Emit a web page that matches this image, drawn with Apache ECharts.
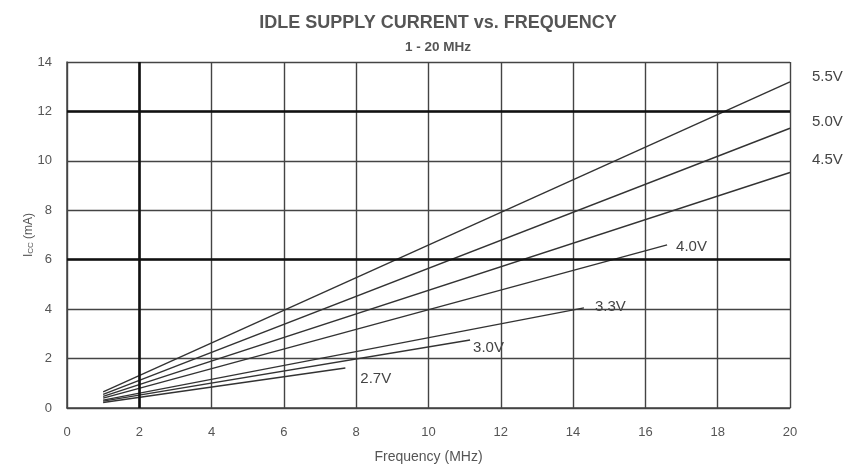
<!DOCTYPE html>
<html><head><meta charset="utf-8">
<script src="https://cdn.jsdelivr.net/npm/echarts@6/dist/echarts.min.js"></script>
<style>html,body{margin:0;padding:0;background:#fff}#c{width:853px;height:470px}</style>
</head><body><div id="c"></div>
<script>
// Data
const voltages = ['5.5V','5.0V','4.5V','4.0V','3.3V','3.0V','2.7V'];
const startX = [1, 1, 1, 1, 1, 1, 1];
const startY = [0.65, 0.55, 0.47, 0.40, 0.32, 0.28, 0.22];
const endX   = [20, 20, 20, 16.6, 14.3, 11.15, 7.7];
const endY   = [13.2, 11.32, 9.53, 6.6, 4.05, 2.75, 1.62];
const xTicks = [0,2,4,6,8,10,12,14,16,18,20];
const yTicks = [0,2,4,6,8,10,12,14];
const heavyX = [2];
const heavyY = [6, 12];

const labelOffsets = [[14,-5],[14,-6],[14,-13],[1,2],[3,-1],[-5,8],[7,11]];

const chart = echarts.init(document.getElementById('c'));
const series = voltages.map((v,i)=>({
  type:'line', name:v, symbol:'none', silent:true,
  data:[[startX[i],startY[i]],[endX[i],endY[i]]],
  lineStyle:{color:'#333', width:1.4},
  endLabel:{show:true, formatter:v, color:'#444', fontSize:15, fontFamily:'Liberation Sans',
    offset:labelOffsets[i]}
}));
series.push({
  type:'line', data:[], silent:true,
  markLine:{symbol:'none', silent:true, label:{show:false},
    lineStyle:{color:'#111', width:2.6, type:'solid'},
    data: heavyX.map(x=>({xAxis:x})).concat(heavyY.map(y=>({yAxis:y})))}
});
chart.setOption({
  animation:false,
  title:[
    {text:'IDLE SUPPLY CURRENT vs. FREQUENCY', left:433, top:9, textAlign:'center',
     textStyle:{fontSize:18, fontWeight:'bold', color:'#555', fontFamily:'Liberation Sans'}},
    {text:'1 - 20 MHz', left:433, top:35, textAlign:'center',
     textStyle:{fontSize:13.5, fontWeight:'bold', color:'#555', fontFamily:'Liberation Sans'}}
  ],
  grid:{left:67, right:63, top:62, bottom:62},
  xAxis:{type:'value', min:0, max:20, interval:2,
    name:'Frequency (MHz)', nameLocation:'middle', nameGap:42, nameMoveOverlap:false,
    nameTextStyle:{fontSize:14, color:'#555', fontFamily:'Liberation Sans'},
    axisLine:{show:true, lineStyle:{color:'#444', width:1.5}},
    axisTick:{show:false},
    axisLabel:{color:'#555', fontSize:13, margin:18, fontFamily:'Liberation Sans'},
    splitLine:{show:true, lineStyle:{color:'#444', width:1.4}}},
  yAxis:{type:'value', min:0, max:14, interval:2,
    name:'{m|I}{s|CC} {m|(mA)}', nameLocation:'middle', nameGap:32, nameRotate:90, nameMoveOverlap:false,
    nameTextStyle:{color:'#555', fontFamily:'Liberation Sans',
      rich:{m:{fontSize:12, color:'#555'}, s:{fontSize:8, color:'#555', verticalAlign:'bottom'}}},
    axisLine:{show:true, lineStyle:{color:'#444', width:1.5}},
    axisTick:{show:false},
    axisLabel:{color:'#555', fontSize:13, margin:15, fontFamily:'Liberation Sans'},
    splitLine:{show:true, lineStyle:{color:'#444', width:1.4}}},
  series: series
});
</script></body></html>
